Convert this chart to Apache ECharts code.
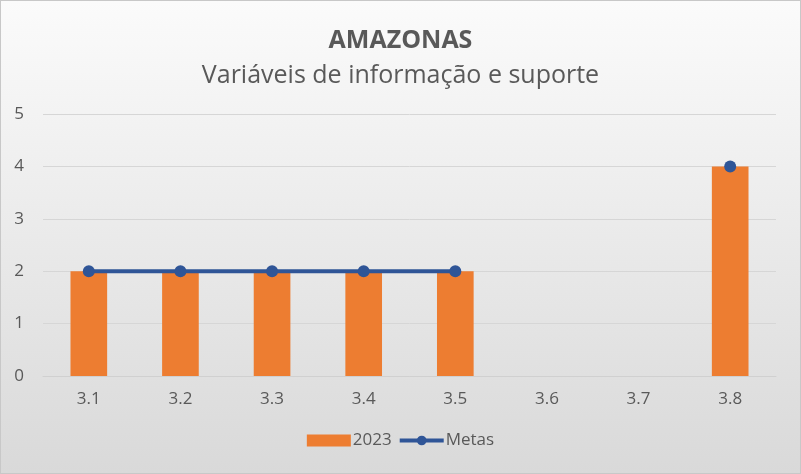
<!DOCTYPE html>
<html>
<head>
<meta charset="utf-8">
<script src="https://cdn.jsdelivr.net/npm/echarts@6/dist/echarts.min.js"></script>
<style>
html,body{margin:0;padding:0;background:#fff;}
#c{width:801px;height:474px;box-sizing:border-box;border:1px solid #c8c8c8;}
</style>
</head>
<body>
<div id="c"></div>
<script>
const categories = ['3.1','3.2','3.3','3.4','3.5','3.6','3.7','3.8'];
const values2023 = [2,2,2,2,2,null,null,4];
const metas = [2,2,2,2,2,null,null,4];
const yTicks = [0,1,2,3,4,5];

const chart = echarts.init(document.getElementById('c'));
const font = '"Open Sans", Lato, sans-serif';
chart.setOption({
  backgroundColor: {type:'linear',x:0,y:0,x2:0,y2:1,colorStops:[{offset:0,color:'#fbfbfb'},{offset:1,color:'#d9d9d9'}]},
  textStyle:{fontFamily:font},
  title:[
    {text:'AMAZONAS',left:'center',top:22,textStyle:{fontFamily:font,fontSize:25,fontWeight:'bold',color:'#595959'}},
    {text:'Variáveis de informação e suporte',left:'center',top:57,textStyle:{fontFamily:font,fontSize:25,fontWeight:'normal',color:'#595959'}}
  ],
  legend:{
    bottom:19,left:'center',itemGap:6,
    itemWidth:44,itemHeight:12,
    textStyle:{fontFamily:font,fontSize:17,color:'#595959',padding:[0,0,0,-3]},
    data:[{name:'2023',icon:'rect'},{name:'Metas',lineStyle:{width:4},itemStyle:{color:'#2F5597'}}]
  },
  grid:{left:42,right:24,top:113,bottom:97},
  xAxis:{
    type:'category',data:categories,
    axisLine:{lineStyle:{color:'#d0d0d0'}},
    axisTick:{show:false},
    axisLabel:{color:'#595959',fontSize:17,margin:15,fontFamily:font}
  },
  yAxis:{
    type:'value',min:yTicks[0],max:yTicks[yTicks.length-1],interval:1,
    axisLine:{show:false},axisTick:{show:false},
    splitLine:{lineStyle:{color:'#d6d6d6',width:1}},
    axisLabel:{color:'#595959',fontSize:17,margin:19,fontFamily:font}
  },
  series:[
    {name:'2023',type:'bar',data:values2023,barWidth:'40%',itemStyle:{color:'#ED7D31'}},
    {name:'Metas',type:'line',data:metas,connectNulls:false,symbol:'circle',symbolSize:12,
     lineStyle:{color:'#2F5597',width:4},itemStyle:{color:'#2F5597'}}
  ]
});
</script>
</body>
</html>
